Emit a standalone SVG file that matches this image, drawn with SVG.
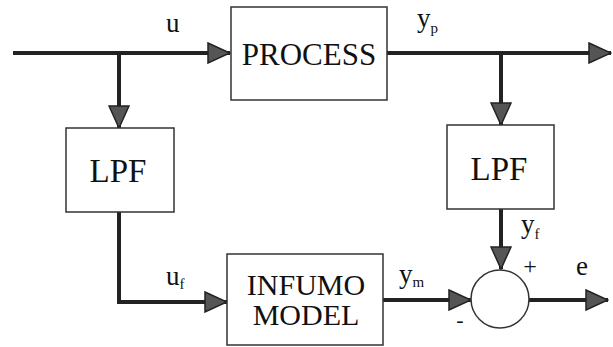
<svg xmlns="http://www.w3.org/2000/svg" width="613" height="347" viewBox="0 0 613 347">
  <style>
    .box { fill: #fff; stroke: #333; stroke-width: 1.5; }
    .wire { fill: none; stroke: #222; stroke-width: 4; }
    text { fill: #111; font-family: "Liberation Serif", "Times New Roman", serif; }
  </style>
  <defs>
    <marker id="arrow" viewBox="0 0 24 22" refX="23" refY="11" markerWidth="24" markerHeight="22" markerUnits="userSpaceOnUse" orient="auto">
      <path d="M1,1 L23,11 L1,21 Z" fill="#555" stroke="#222" stroke-width="1.5" stroke-linejoin="miter"/>
    </marker>
  </defs>
  <rect width="613" height="347" fill="#fff"/>

  <!-- signal lines -->
  <g id="connectors">
    <line class="wire" x1="13" y1="53" x2="230" y2="53" marker-end="url(#arrow)"/>
    <line class="wire" x1="119" y1="53" x2="119" y2="128" marker-end="url(#arrow)"/>
    <line class="wire" x1="387" y1="53" x2="611" y2="53" marker-end="url(#arrow)"/>
    <line class="wire" x1="501" y1="53" x2="501" y2="125" marker-end="url(#arrow)"/>
    <polyline class="wire" points="119,212 119,302 227,302" marker-end="url(#arrow)"/>
    <line class="wire" x1="501" y1="209" x2="501" y2="269" marker-end="url(#arrow)"/>
    <line class="wire" x1="383" y1="300" x2="471" y2="300" marker-end="url(#arrow)"/>
    <line class="wire" x1="529" y1="300" x2="608" y2="300" marker-end="url(#arrow)"/>
  </g>

  <g id="process">
    <rect class="box" x="231" y="7" width="156" height="93"/>
    <text x="309" y="65" font-size="31" text-anchor="middle">PROCESS</text>
  </g>
  <g id="lpf-input">
    <rect class="box" x="66" y="128" width="108" height="84"/>
    <text x="118" y="182" font-size="33" text-anchor="middle">LPF</text>
  </g>
  <g id="lpf-output">
    <rect class="box" x="447" y="125" width="107" height="84"/>
    <text x="499" y="180" font-size="33" text-anchor="middle">LPF</text>
  </g>
  <g id="infumo-model" font-size="30" text-anchor="middle">
    <rect class="box" x="227" y="254" width="156" height="91"/>
    <text x="306" y="295">INFUMO</text>
    <text x="306" y="325">MODEL</text>
  </g>
  <g id="summing-junction">
    <circle cx="500" cy="299" r="29" fill="#fff" stroke="#333" stroke-width="1.5"/>
    <text x="530" y="274" font-size="24" text-anchor="middle">+</text>
    <text x="460" y="327" font-size="22" text-anchor="middle">-</text>
  </g>

  <g id="signal-labels" font-size="27">
    <text x="166" y="32">u</text>
    <text x="417" y="27">y<tspan font-size="15" dy="6">p</tspan></text>
    <text x="521" y="233">y<tspan font-size="15" dy="6">f</tspan></text>
    <text x="576" y="275">e</text>
    <text x="399" y="283">y<tspan font-size="15" dy="4">m</tspan></text>
    <text x="166" y="285">u<tspan font-size="15" dy="4">f</tspan></text>
  </g>
</svg>
